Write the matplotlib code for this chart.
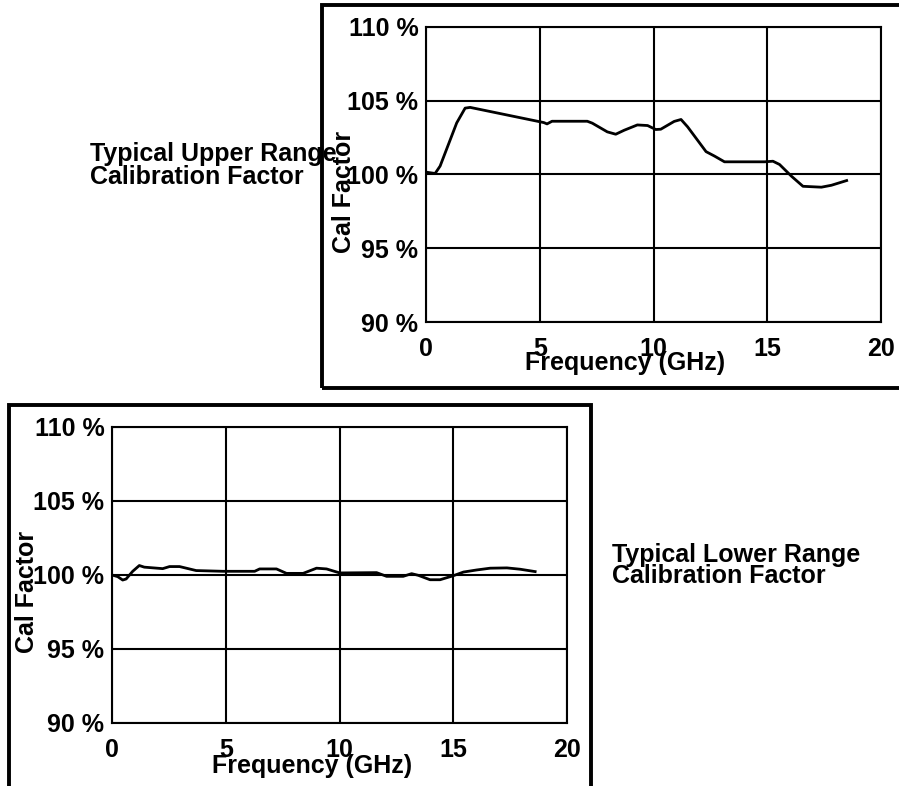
import numpy as np
import matplotlib.pyplot as plt
from matplotlib.patches import Rectangle

plt.rcParams['font.family'] = ['Liberation Sans', 'DejaVu Sans']
plt.rcParams['font.weight'] = 'bold'

W, H = 899, 786

# upper range cal factor (GHz, %)
upper_freq = [0.0, 0.4, 0.62, 1.35, 1.72, 1.94, 5.18, 5.32, 5.54, 7.09, 7.31, 7.97,
              8.34, 8.71, 9.29, 9.74, 10.1, 10.32, 10.91, 11.21, 11.5, 12.31, 12.68,
              13.12, 14.88, 15.25, 15.54, 16.06, 16.57, 17.38, 17.82, 18.49]
upper_cal = [100.16, 100.07, 100.57, 103.5, 104.5, 104.55, 103.52, 103.43, 103.61,
             103.61, 103.48, 102.89, 102.73, 103.0, 103.36, 103.32, 103.05, 103.07,
             103.6, 103.73, 103.23, 101.55, 101.25, 100.86, 100.86, 100.9, 100.68,
             99.89, 99.2, 99.14, 99.27, 99.59]

# lower range cal factor (GHz, %)
lower_freq = [0.0, 0.25, 0.47, 0.62, 0.91, 1.2, 1.42, 2.23, 2.53, 2.97, 3.7, 4.88,
              6.27, 6.49, 7.23, 7.67, 8.4, 8.99, 9.43, 10.01, 11.63, 12.07, 12.8,
              13.17, 13.46, 13.98, 14.42, 15.0, 15.45, 16.03, 16.62, 17.36, 17.94, 18.6]
lower_cal = [100.0, 99.89, 99.66, 99.73, 100.25, 100.64, 100.53, 100.43, 100.57,
             100.57, 100.3, 100.25, 100.25, 100.41, 100.41, 100.11, 100.11, 100.46,
             100.41, 100.14, 100.16, 99.91, 99.91, 100.09, 99.98, 99.68, 99.68, 99.95,
             100.2, 100.34, 100.46, 100.48, 100.39, 100.23]

x_ticks = [0, 5, 10, 15, 20]
y_ticks = [90, 95, 100, 105, 110]
y_labels = ['90 %', '95 %', '100 %', '105 %', '110 %']

FS = 18


def fx(px):
    return px / W


def fy(py):
    return 1 - py / H


def panel(left, top, right, bottom, freq, cal):
    ax = fig.add_axes([fx(left), fy(bottom), fx(right - left), (bottom - top) / H])
    ax.plot(freq, cal, color='black', lw=2)
    ax.set_xlim(0, 20)
    ax.set_ylim(90, 110)
    ax.set_xticks(x_ticks)
    ax.set_yticks(y_ticks)
    ax.set_yticklabels(y_labels)
    ax.grid(True, color='black', lw=1.5)
    ax.tick_params(length=0, labelsize=FS)
    ax.tick_params(axis='x', pad=11)
    ax.tick_params(axis='y', pad=5.5)
    for s in ax.spines.values():
        s.set_linewidth(1.5)
    return ax


fig = plt.figure(figsize=(W / 100, H / 100), dpi=100)

# frames
fig.add_artist(Rectangle((fx(322), fy(388)), fx(620), 383 / H, transform=fig.transFigure,
                         fill=False, lw=2.8, edgecolor='black'))
fig.add_artist(Rectangle((fx(9), fy(820)), fx(582), 415 / H, transform=fig.transFigure,
                         fill=False, lw=2.8, edgecolor='black'))

panel(426, 27, 881, 322, upper_freq, upper_cal)
panel(112, 427, 567, 723, lower_freq, lower_cal)

fig.text(fx(625), fy(370), 'Frequency (GHz)', ha='center', va='baseline', fontsize=FS)
fig.text(fx(312), fy(773), 'Frequency (GHz)', ha='center', va='baseline', fontsize=FS)

fig.text(fx(344), fy(192), 'Cal Factor', rotation=90, ha='center', va='center', fontsize=FS)
fig.text(fx(27), fy(592), 'Cal Factor', rotation=90, ha='center', va='center', fontsize=FS)

fig.text(fx(90), fy(161), 'Typical Upper Range', va='baseline', fontsize=FS)
fig.text(fx(90), fy(184), 'Calibration Factor', va='baseline', fontsize=FS)
fig.text(fx(612), fy(562), 'Typical Lower Range', va='baseline', fontsize=FS)
fig.text(fx(612), fy(583), 'Calibration Factor', va='baseline', fontsize=FS)

plt.savefig('out.png', dpi=100)
